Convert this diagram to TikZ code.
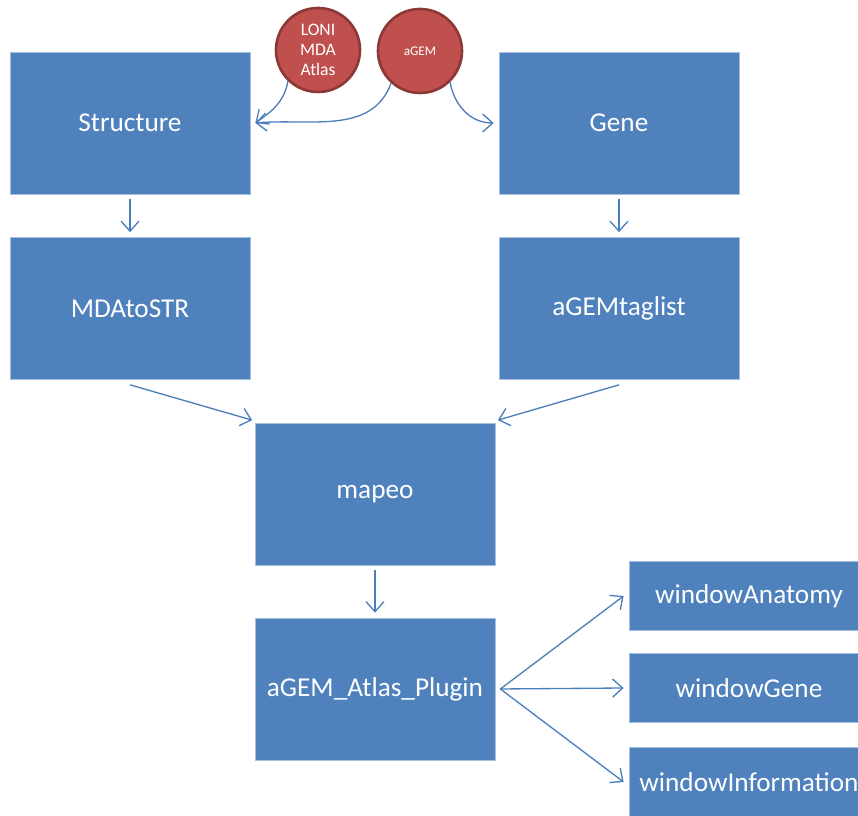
\documentclass[tikz,border=0pt]{standalone}
\usepackage{fontspec}
\setmainfont{Carlito}
\usepackage{tikz}
\usetikzlibrary{arrows.meta,positioning}

\definecolor{boxblue}{HTML}{4F81BD}
\definecolor{boxedge}{HTML}{A7BFDE}
\definecolor{srcred}{HTML}{C0504D}
\definecolor{srcedge}{HTML}{8C3836}
\definecolor{linkblue}{HTML}{4A7EBB}

\begin{document}
\begin{tikzpicture}[
  block/.style={rectangle, fill=boxblue, draw=boxedge, line width=0.4pt, text=white,
    minimum width=4.8cm, minimum height=2.84cm, align=center,
    font=\fontsize{15.5}{18}\selectfont},
  window/.style={block, minimum height=1.38cm},
  source/.style={circle, fill=srcred, draw=srcedge, line width=1.5pt, text=white,
    minimum size=1.68cm, inner sep=0pt, align=center},
  arrow/.style={-{Straight Barb[length=2mm, width=3.6mm]}, draw=linkblue, line width=0.75pt}
]
\useasboundingbox (0,0) rectangle (17.16,-16.32);
% inputs
\node[source, font=\fontsize{10}{11.5}\selectfont] (loni) at (6.36,-1.0) {LONI\\MDA\\Atlas};
\node[source, font=\fontsize{7.5}{9}\selectfont] (agem) at (8.4,-1.02) {aGEM};
% left branch
\node[block] (structure) at (2.6,-2.46) {Structure};
\node[block] (mdatostr) at (2.6,-6.17) {MDAtoSTR};
% right branch
\node[block] (gene) at (12.38,-2.46) {Gene};
\node[block] (taglist) at (12.38,-6.17) {aGEMtaglist};
% merge
\node[block] (mapeo) at (7.5,-9.88) {mapeo};
\node[block] (plugin) at (7.5,-13.78) {aGEM\_Atlas\_Plugin};
% windows
\node[window] (wanatomy) at (14.98,-11.92) {windowAnatomy};
\node[window] (wgene) at (14.98,-13.76) {windowGene};
\node[window] (winfo) at (14.98,-15.64) {windowInformation};

\draw[arrow] (loni.226) to[out=-100, in=35] ([xshift=1mm]structure.east);
\draw[arrow] (agem.228) to[out=-110, in=5] ([xshift=1mm]structure.east);
\draw[arrow] (agem.314) to[out=-80, in=180] ([xshift=-1mm]gene.west);
\draw[arrow] ([yshift=-1mm]structure.south) -- ([yshift=1mm]mdatostr.north);
\draw[arrow] ([yshift=-1mm]gene.south) -- ([yshift=1mm]taglist.north);
\draw[arrow] ([yshift=-1mm]mdatostr.south) -- ([shift={(-0.5mm,0.5mm)}]mapeo.north west);
\draw[arrow] ([yshift=-1mm]taglist.south) -- ([shift={(0.5mm,0.5mm)}]mapeo.north east);
\draw[arrow] ([yshift=-1mm]mapeo.south) -- ([yshift=1mm]plugin.north);
\draw[arrow] ([xshift=1mm]plugin.east) -- ([xshift=-1mm]wanatomy.west);
\draw[arrow] ([xshift=1mm]plugin.east) -- ([xshift=-1mm]wgene.west);
\draw[arrow] ([xshift=1mm]plugin.east) -- ([xshift=-1mm]winfo.west);
\end{tikzpicture}
\end{document}
